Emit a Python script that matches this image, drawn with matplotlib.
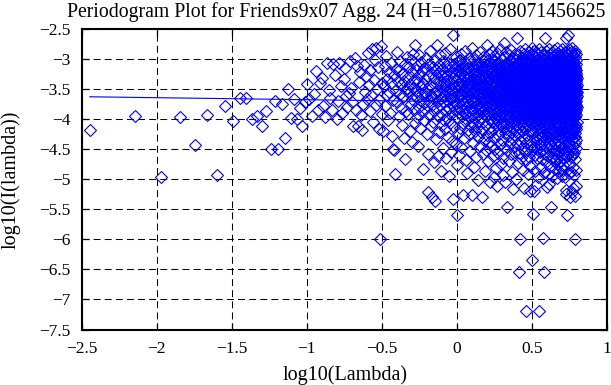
import numpy as np
import matplotlib
matplotlib.use('Agg')
import matplotlib.pyplot as plt
from matplotlib.ticker import FuncFormatter

plt.rcParams['font.family'] = ['Liberation Serif', 'DejaVu Serif']
plt.rcParams['lines.scale_dashes'] = False

# the reference shows the title cut off at the right edge after "...625"
title = "Periodogram Plot for Friends9x07 Agg. 24 (H=0.516788071456625"
x_label = "log10(Lambda)"
y_label = "log10(I(lambda))"
hurst = 0.516788071456625
fit_intercept = -3.71
x_ticks = [-2.5, -2, -1.5, -1, -0.5, 0, 0.5, 1]
y_ticks = [-7.5, -7, -6.5, -6, -5.5, -5, -4.5, -4, -3.5, -3, -2.5]

# log10 periodogram values, frequency index k = 1..1750
log_I_a = [
    -4.18, -3.95, -4.96, -3.97, -4.43, -3.93, -4.93, -3.78, -4.03, -3.65,
    -3.65, -4.00, -3.95, -4.12, -3.87, -4.49, -3.70, -4.49, -3.75, -4.31,
    -3.50, -3.98, -3.66, -4.00, -3.81, -4.11, -3.72, -3.42, -3.67, -3.95,
]
log_I_b = [
    -3.58, -3.20, -3.84, -3.40, -3.31, -3.78, -3.97, -3.07, -3.52, -3.64,
    -3.85, -3.09, -3.26, -4.00, -3.70, -3.06, -3.45, -3.90, -3.33, -3.15,
    -3.62, -3.80, -3.56, -3.04, -3.48, -3.72, -4.12, -2.98, -3.84, -3.12,
    -4.11, -3.38, -3.22, -3.93, -4.18, -3.75, -3.10, -3.55, -3.28, -3.66,
    -2.90, -3.44, -3.87, -3.18, -3.60, -2.84, -4.05, -3.35, -3.02, -3.77,
    -2.82, -3.50, -3.14, -4.17, -3.68, -5.99, -2.79, -3.40, -3.92, -4.20,
]
log_I_c = [
    -3.45, -3.12, -3.78, -2.95, -3.60, -3.33, -4.02, -3.21, -3.54, -3.89, -3.07, -3.40, -4.28, -4.50, -3.68, -4.52, -3.27, -4.91, -3.51, -3.16,
    -3.71, -2.88, -3.36, -3.95, -3.19, -3.58, -3.03, -3.82, -3.44, -4.10, -3.25, -3.63, -4.31, -3.37, -3.09, -4.67, -3.52, -3.86, -2.97, -3.48,
    -3.30, -3.92, -3.14, -3.57, -4.19, -3.42, -3.01, -3.75, -4.38, -3.22, -3.66, -3.49, -2.91, -3.84, -3.35, -2.76, -4.06, -3.61, -3.18, -3.97,
    -3.53, -3.11, -4.44, -3.39, -3.79, -2.93, -3.26, -3.68, -4.14, -3.46, -3.05, -3.88, -3.58, -3.20, -4.83, -3.41, -3.73, -3.15, -4.01, -3.55,
    -3.34, -3.83, -2.99, -3.62, -4.25, -3.17, -3.50, -4.58, -3.28, -5.22, -3.70, -3.08, -3.93, -3.44, -2.86, -3.59, -4.12, -3.23, -5.30, -3.76,
    -3.47, -4.05, -3.13, -3.65, -4.72, -3.31, -3.87, -3.02, -5.36, -3.56, -3.19, -4.33, -3.40, -3.81, -2.76, -3.52, -4.61, -3.24, -3.69, -3.95,
    -3.10, -3.58, -4.21, -3.36, -2.94, -3.77, -4.87, -3.27, -3.64, -3.45, -4.09, -3.16, -3.91, -3.53, -3.04, -4.48, -3.38, -3.72, -3.21, -4.02,
    -3.62, -2.90, -3.43, -4.17, -3.29, -3.85, -4.64, -3.12, -3.55, -3.98, -3.35, -3.06, -4.29, -3.70, -3.48, -4.95, -3.18, -3.81, -3.57, -2.83,
    -3.39, -4.07, -3.66, -3.23, -4.54, -3.50, -3.90, -3.14, -3.60, -4.36, -3.32, -2.60, -3.78, -5.33, -3.46, -3.09, -4.13, -3.70, -3.26, -3.54,
    -3.84, -3.15, -4.41, -3.37, -2.96, -3.74, -4.77, -5.60, -3.51, -3.20, -3.96, -3.63, -4.23, -3.03, -3.42, -3.88, -3.28, -4.60, -3.58, -3.11,
]
log_I_d = [
    -3.47, -3.02, -3.81, -4.15, -3.36, -2.92, -3.59, -3.24, -4.47, -3.68, -3.13, -3.94, -3.41, -3.55, -4.06, -3.19, -5.27, -3.73, -3.30, -3.86,
    -3.63, -3.27, -4.32, -3.52, -2.87, -3.91, -3.38, -3.07, -4.68, -3.45, -3.79, -3.16, -4.01, -3.58, -3.22, -4.90, -3.33, -3.70, -4.18, -3.49,
    -3.15, -3.88, -3.42, -2.98, -4.24, -3.61, -3.29, -3.75, -4.53, -3.37, -3.04, -3.96, -3.50, -3.20, -4.11, -3.67, -3.44, -3.83, -5.27, -3.56,
    -3.40, -2.81, -3.72, -4.07, -3.25, -3.54, -4.40, -3.12, -3.85, -3.47, -3.01, -4.79, -3.63, -3.31, -3.98, -3.18, -4.20, -3.57, -3.69, -3.35,
    -3.89, -3.23, -3.51, -4.63, -2.94, -3.66, -3.39, -4.13, -3.09, -3.76, -3.44, -3.27, -4.29, -3.60, -3.14, -3.93, -5.02, -3.48, -3.81, -3.34,
    -3.58, -3.06, -4.03, -3.43, -3.21, -3.84, -2.89, -3.65, -4.45, -3.32, -3.97, -3.17, -3.53, -4.22, -3.71, -3.28, -3.46, -5.30, -3.11, -3.78,
    -3.36, -4.16, -3.62, -2.97, -3.49, -3.87, -3.19, -4.58, -3.41, -3.04, -3.74, -4.34, -3.26, -3.55, -3.92, -3.13, -4.86, -3.67, -3.30, -3.52,
    -3.44, -3.82, -3.10, -4.09, -3.57, -3.23, -3.69, -4.51, -3.38, -2.76, -3.95, -3.48, -3.16, -4.27, -3.61, -3.02, -3.77, -3.33, -4.70, -3.54,
    -3.29, -3.90, -3.47, -2.92, -4.14, -3.63, -3.20, -3.58, -4.38, -3.12, -3.80, -3.42, -3.99, -5.05, -3.35, -3.07, -3.71, -4.21, -3.51, -3.25,
    -3.66, -3.14, -4.44, -3.39, -2.86, -3.85, -3.53, -4.05, -3.22, -3.74, -3.45, -3.01, -4.62, -3.30, -3.92, -3.18, -3.59, -4.17, -3.70, -4.97,
    -3.49, -3.27, -3.83, -2.95, -4.31, -3.56, -3.11, -3.68, -4.49, -3.37, -3.03, -3.96, -3.43, -3.21, -4.10, -3.62, -3.34, -3.78, -4.81, -3.52,
    -3.31, -3.88, -3.17, -4.02, -3.55, -5.12, -2.90, -3.64, -3.42, -4.26, -3.08, -3.75, -3.48, -3.24, -4.56, -3.60, -3.13, -3.93, -3.38, -3.70,
    -3.58, -3.05, -3.86, -4.19, -3.33, -2.83, -3.67, -3.45, -4.41, -3.20, -3.79, -3.51, -3.14, -4.08, -3.62, -4.74, -3.28, -3.97, -3.40, -3.71,
    -3.46, -3.91, -3.19, -4.35, -3.56, -3.00, -3.72, -3.37, -4.12, -3.25, -3.84, -3.50, -4.64, -3.11, -3.66, -3.42, -4.93, -3.29, -3.81, -2.73,
    -3.63, -3.16, -4.04, -3.44, -2.96, -3.77, -3.32, -4.47, -3.54, -3.09, -3.89, -3.22, -4.23, -3.59, -3.39, -3.70, -5.04, -3.48, -3.13, -3.95,
    -3.36, -3.82, -2.88, -3.57, -4.16, -3.26, -3.68, -3.43, -4.52, -3.06, -3.93, -3.51, -3.18, -5.46, -3.74, -3.30, -4.07, -3.62, -3.40, -3.85,
    -3.53, -3.10, -4.28, -3.67, -3.23, -2.93, -3.80, -3.45, -4.69, -3.35, -3.98, -3.15, -3.58, -4.11, -3.72, -3.02, -3.49, -4.39, -3.27, -3.64,
    -3.41, -3.96, -3.20, -3.55, -4.21, -2.85, -3.69, -3.33, -4.58, -3.12, -3.86, -3.47, -3.04, -4.03, -3.61, -3.28, -4.88, -3.76, -3.38, -3.52,
    -3.60, -3.17, -3.89, -4.33, -3.44, -2.98, -3.73, -3.26, -4.15, -3.51, -3.08, -5.16, -3.65, -3.36, -3.94, -3.21, -4.46, -3.57, -3.81, -3.40,
    -3.32, -3.79, -3.13, -4.06, -3.48, -2.91, -3.62, -4.54, -3.39, -3.01, -3.87, -3.55, -3.24, -4.27, -3.70, -3.15, -4.99, -3.46, -3.95, -3.58,
    -3.54, -3.09, -3.84, -4.18, -3.37, -3.22, -3.68, -4.42, -3.45, -2.65, -3.91, -3.29, -3.60, -4.09, -3.14, -3.76, -3.50, -4.73, -3.34, -3.97,
    -3.43, -2.94, -3.71, -3.19, -4.24, -3.56, -3.05, -3.88, -3.40, -6.54, -3.63, -3.27, -4.13, -3.52, -3.82, -3.12, -4.57, -3.66, -3.35, -4.01,
    -3.58, -3.18, -5.99, -3.47, -2.87, -3.93, -3.30, -4.36, -3.61, -3.03, -3.78, -3.44, -4.65, -3.24, -3.69, -3.53, -4.08, -3.14, -3.86, -3.39,
    -3.49, -3.97, -3.23, -4.20, -3.57, -2.99, -3.74, -3.36, -4.48, -3.10, -3.83, -3.45, -3.06, -4.11, -3.64, -3.31, -4.84, -3.70, -3.17, -3.55,
    -3.66, -3.21, -3.90, -4.31, -3.42, -2.92, -3.59, -5.15, -3.33, -3.80, -3.14, -4.05, -3.51, -3.01, -3.73, -4.55, -3.38, -3.26, -3.95, -3.62,
    -3.34, -3.85, -3.11, -4.17, -3.54, -2.84, -3.67, -3.43, -4.40, -3.25, -3.76, -3.07, -7.19, -3.60, -3.96, -3.29, -4.68, -3.50, -3.18, -3.82,
    -3.57, -3.02, -3.92, -4.26, -3.40, -3.20, -3.71, -4.50, -3.36, -2.97, -3.87, -3.53, -3.15, -4.03, -3.64, -3.44, -4.91, -3.28, -3.78, -3.48,
    -3.45, -3.89, -3.24, -4.12, -3.58, -2.89, -3.70, -3.32, -4.63, -3.09, -3.81, -3.52, -3.16, -4.34, -3.66, -3.38, -3.99, -3.21, -4.78, -3.55,
    -3.61, -3.13, -3.94, -3.46, -5.20, -2.95, -3.75, -3.29, -4.19, -3.54, -3.04, -3.84, -3.41, -4.44, -3.23, -3.68, -4.07, -3.35, -3.91, -3.50,
    -3.39, -3.80, -3.17, -4.22, -3.56, -2.82, -3.72, -3.43, -4.52, -3.27, -3.88, -3.08, -3.63, -4.01, -3.49, -6.34, -3.31, -3.97, -3.19, -3.66,
]
log_I_e = [
    -3.52, -3.14, -5.58, -3.87, -3.36, -2.93, -3.69, -4.21, -3.45, -3.06, -3.79, -3.28, -4.47, -3.61, -5.19, -3.40, -3.95, -3.19, -3.73, -3.55,
    -3.44, -3.91, -3.22, -4.10, -3.58, -2.86, -3.67, -3.34, -4.59, -3.11, -3.84, -3.49, -3.03, -4.29, -3.71, -3.26, -4.86, -3.53, -3.98, -3.38,
    -3.63, -3.17, -3.86, -4.36, -3.47, -2.97, -3.75, -3.31, -4.04, -3.56, -3.09, -5.10, -3.42, -3.93, -3.20, -3.68, -4.49, -3.35, -3.81, -3.51,
    -3.39, -3.83, -3.13, -4.18, -3.60, -2.90, -3.72, -3.46, -4.64, -3.24, -3.89, -3.02, -3.54, -4.08, -3.66, -3.29, -4.96, -3.77, -3.43, -3.57,
    -3.48, -3.96, -3.18, -3.62, -7.19, -2.84, -3.70, -3.37, -4.25, -3.53, -3.07, -3.85, -3.41, -4.41, -3.23, -3.74, -4.02, -3.32, -3.90, -3.59,
    -3.65, -3.12, -3.94, -4.14, -3.44, -2.96, -3.78, -3.27, -4.55, -3.50, -3.04, -3.82, -3.36, -4.31, -3.58, -3.21, -4.80, -3.69, -3.40, -3.87,
    -3.35, -3.88, -3.16, -4.05, -3.57, -2.88, -3.64, -3.42, -4.43, -3.25, -3.92, -3.09, -3.51, -4.22, -3.73, -3.30, -4.67, -3.55, -3.80, -3.46,
    -3.59, -3.20, -3.85, -4.28, -3.38, -2.94, -3.71, -3.33, -4.11, -3.53, -3.05, -3.97, -3.43, -4.52, -3.15, -3.66, -3.48, -5.97, -3.79, -3.27,
    -3.41, -3.90, -3.13, -4.16, -3.56, -6.54, -2.91, -3.68, -3.35, -4.37, -3.22, -3.83, -3.47, -3.02, -4.03, -3.61, -3.29, -4.89, -3.74, -3.52,
    -3.62, -3.18, -3.95, -4.24, -3.44, -3.07, -3.70, -3.37, -4.58, -2.65, -3.86, -3.50, -3.23, -4.09, -3.58, -3.31, -4.72, -3.76, -3.14, -3.45,
    -3.33, -3.81, -3.10, -4.13, -3.55, -2.87, -3.67, -3.40, -4.46, -3.26, -3.93, -3.04, -3.52, -4.30, -3.72, -3.19, -3.98, -3.48, -3.84, -5.13,
    -3.57, -3.15, -3.89, -4.19, -3.42, -2.95, -3.75, -3.30, -4.61, -3.54, -3.08, -3.87, -3.39, -4.06, -3.64, -3.24, -4.92, -3.70, -3.47, -3.61,
    -3.46, -3.94, -3.21, -4.27, -3.58, -2.83, -3.69, -5.08, -3.36, -3.80, -3.12, -4.40, -3.51, -3.03, -3.77, -4.10, -3.32, -3.63, -3.25, -3.90,
    -3.38, -3.85, -3.17, -4.15, -3.60, -2.98, -3.73, -3.44, -4.53, -3.27, -3.91, -3.06, -3.55, -4.33, -3.66, -3.35, -4.78, -3.49, -3.82, -3.22,
    -3.64, -3.11, -3.96, -4.21, -3.41, -2.92, -3.78, -3.29, -4.08, -5.47, -3.53, -3.01, -3.87, -3.45, -4.45, -3.19, -3.70, -3.56, -3.34, -3.99,
    -3.50, -3.88, -3.14, -4.03, -3.59, -2.89, -3.67, -3.39, -4.63, -3.23, -3.84, -3.48, -3.05, -4.26, -3.72, -3.30, -4.94, -3.61, -3.43, -3.79,
    -3.37, -3.93, -3.20, -4.17, -3.54, -2.96, -3.74, -3.32, -4.48, -3.09, -3.81, -3.46, -3.16, -4.35, -3.65, -3.26, -3.97, -3.52, -4.70, -3.60,
    -3.58, -3.13, -3.90, -4.23, -3.43, -2.85, -3.71, -3.36, -4.12, -3.55, -3.02, -3.86, -3.40, -4.57, -3.21, -3.68, -4.83, -3.49, -3.77, -3.28,
    -3.44, -3.89, -3.18, -4.07, -3.62, -2.93, -3.76, -3.31, -4.39, -3.25, -3.94, -3.08, -3.53, -4.20, -3.70, -3.35, -4.66, -3.57, -3.83, -3.47,
    -3.61, -3.15, -3.98, -4.30, -3.38, -2.99, -3.66, -3.45, -4.51, -3.11, -3.80, -3.50, -3.24, -4.04, -3.73, -3.29, -4.98, -3.56, -3.42, -3.87,
    -3.36, -3.84, -3.12, -4.16, -3.59, -2.81, -3.72, -3.40, -4.62, -3.27, -3.90, -3.04, -3.54, -4.28, -3.67, -3.20, -3.95, -3.48, -3.78, -4.74,
    -3.53, -3.19, -3.93, -4.11, -3.46, -2.90, -3.69, -3.33, -4.44, -3.56, -3.07, -3.85, -3.41, -4.22, -3.63, -3.26, -4.87, -3.75, -3.14, -3.50,
    -3.47, -3.91, -3.16, -4.25, -3.57, -2.94, -3.77, -3.37, -4.06, -3.23, -3.82, -3.49, -3.01, -4.55, -3.70, -3.30, -3.99, -3.60, -4.69, -3.43,
    -3.65, -3.10, -3.87, -4.18, -3.39, -2.87, -3.74, -3.44, -4.41, -3.28, -3.96, -3.52, -3.13, -4.09, -3.61, -3.34, -4.82, -3.55, -3.80, -3.21,
    -3.40, -3.86, -3.22, -4.29, -3.58, -2.97, -3.68, -3.31, -4.60, -3.06, -3.92, -3.47, -3.17, -4.14, -3.71, -3.25, -4.95, -3.50, -3.79, -3.62,
    -3.56, -3.14, -3.95, -4.03, -3.43, -2.84, -3.73, -3.38, -4.47, -3.24, -3.83, -3.05, -3.51, -4.32, -3.66, -3.29, -3.89, -3.59, -4.76, -3.45,
    -3.42, -3.90, -3.11, -4.21, -3.55, -2.91, -3.76, -3.35, -4.13, -3.60, -3.03, -3.84, -3.48, -4.50, -3.19, -3.67, -4.85, -3.53, -3.97, -3.30,
    -3.63, -3.18, -3.88, -4.26, -3.37, -2.95, -3.70, -3.46, -4.58, -3.12, -3.81, -3.54, -3.26, -4.07, -3.74, -3.32, -4.64, -3.57, -3.93, -3.41,
    -3.49, -3.85, -3.15, -4.17, -3.61, -2.88, -3.67, -3.39, -4.42, -3.28, -3.94, -3.07, -3.52, -4.35, -3.69, -3.22, -4.97, -3.45, -3.78, -3.58,
    -3.54, -3.20, -3.91, -5.24, -3.44, -3.00, -3.75, -3.33, -4.10, -3.57, -3.09, -3.86, -3.40, -4.53, -2.65, -3.65, -4.23, -3.27, -3.82, -3.48,
    -3.38, -3.89, -3.13, -4.14, -3.56, -5.18, -2.92, -3.72, -3.36, -4.61, -3.23, -3.80, -3.50, -3.04, -4.28, -3.68, -3.31, -3.96, -3.59, -3.46,
    -3.62, -3.16, -5.59, -3.94, -3.41, -2.86, -3.73, -3.35, -4.19, -2.60, -3.84, -3.53, -3.11, -4.46, -3.66, -3.27, -4.02, -3.49, -3.78, -3.57,
    -3.45, -3.92, -3.19, -4.24, -3.58, -2.94, -3.70, -3.32, -4.56, -3.08, -3.87, -3.51, -3.24, -4.11, -3.64, -3.39, -4.90, -3.55, -3.81, -3.42,
    -3.60, -3.12, -3.88, -4.31, -3.47, -2.83, -3.76, -3.37, -4.06, -3.25, -3.95, -3.54, -3.03, -4.43, -3.69, -3.30, -4.73, -3.58, -3.15, -3.84,
    -3.39, -3.86, -3.21, -4.18, -3.55, -2.98, -3.71, -3.44, -4.49, -3.13, -3.90, -3.48, -3.06, -4.27, -3.63, -3.28, -3.97, -3.52, -3.79, -5.30,
    -3.57, -3.17, -3.93, -4.09, -3.42, -2.89, -3.68, -3.34, -4.63, -3.26, -3.82, -3.50, -3.10, -4.21, -3.74, -3.31, -4.88, -3.46, -3.99, -3.61,
    -3.43, -3.89, -3.14, -4.26, -3.59, -2.95, -3.77, -3.38, -4.15, -3.53, -3.05, -3.84, -5.22, -3.47, -3.66, -3.23, -4.51, -3.56, -3.29, -3.92,
    -3.64, -3.20, -3.87, -4.33, -3.40, -2.82, -3.72, -3.45, -4.04, -3.12, -3.95, -3.54, -3.27, -4.58, -3.69, -3.35, -4.79, -3.50, -3.81, -3.58,
    -3.48, -3.91, -3.16, -5.15, -3.57, -2.93, -3.70, -3.36, -4.20, -3.24, -3.86, -3.03, -3.52, -4.45, -3.65, -3.30, -4.12, -3.61, -3.78, -3.41,
    -3.55, -3.11, -3.94, -4.17, -3.44, -2.90, -3.75, -3.33, -4.54, -3.28, -3.83, -3.49, -3.07, -4.29, -3.67, -3.21, -4.93, -3.58, -3.86, -3.39,
    -3.37, -3.88, -3.19, -4.08, -3.60, -2.96, -3.73, -3.46, -4.39, -3.14, -5.28, -3.53, -3.25, -4.23, -3.68, -3.32, -3.97, -3.51, -3.80, -4.67,
    -3.59, -3.15, -3.90, -4.30, -3.42, -2.87, -5.99, -3.71, -3.35, -4.11, -3.56, -3.01, -3.85, -3.47, -4.48, -3.23, -3.64, -4.84, -3.77, -3.29,
    -3.46, -3.93, -3.18, -4.16, -3.57, -2.92, -3.69, -3.38, -5.12, -3.26, -3.82, -3.50, -3.09, -4.34, -3.62, -3.31, -4.05, -3.54, -3.79, -3.43,
]

log_I = np.array(log_I_a + log_I_b + log_I_c + log_I_d + log_I_e)
n = len(log_I)
k = np.arange(1, n + 1)
log_lambda = np.log10(2 * np.pi * k / n)

fit_slope = 1 - 2 * hurst
fit_x = np.array([log_lambda[0], log_lambda[-1]])
fit_y = fit_intercept + fit_slope * fit_x

W, H = 611, 385
fig = plt.figure(figsize=(W / 100, H / 100), dpi=100)
left, right, top, bottom = 81.5, 607.0, 29.0, 329.5
ax = fig.add_axes([left / W, 1 - bottom / H, (right - left) / W, (bottom - top) / H])
ax.set_axisbelow(True)

blue = '#0000ff'
ax.plot(log_lambda, log_I, linestyle='none', marker='D', markersize=6.3,
        markerfacecolor='none', markeredgecolor=blue, markeredgewidth=0.8,
        antialiased=False)
ax.plot(fit_x, fit_y, color=blue, linewidth=0.8)

ax.set_xlim(-2.5, 1)
ax.set_ylim(-7.5, -2.5)
ax.set_xticks(x_ticks)
ax.set_yticks(y_ticks)
fmt = FuncFormatter(lambda v, p: ('%g' % v).replace('-', '\u2212'))
ax.xaxis.set_major_formatter(fmt)
ax.yaxis.set_major_formatter(fmt)
ax.grid(True, color='black', linestyle=(0, (5, 3)), linewidth=0.75)
for s in ax.spines.values():
    s.set_linewidth(1.5)
ax.tick_params(direction='in', length=5, width=0.9, top=True, right=True,
               labelsize=12.5, colors='black')
ax.tick_params(axis='x', pad=8)
ax.tick_params(axis='y', pad=8)

fig.text(67 / W, 1 - 17.5 / H, title, ha='left', va='baseline', fontsize=14.2)
fig.text(345 / W, 1 - 380 / H, x_label, ha='center', va='baseline', fontsize=14.5)
fig.text(11 / W, 1 - 180 / H, y_label, ha='center', va='center', rotation=90, fontsize=14.5)

fig.savefig('out.png', dpi=100)
